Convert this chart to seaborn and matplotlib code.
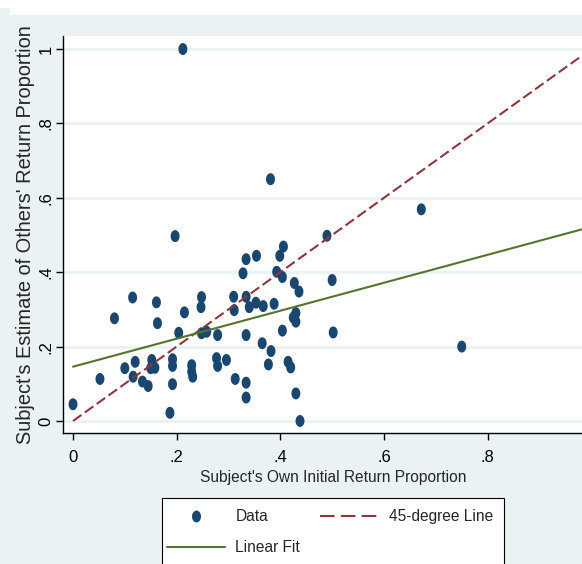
import numpy as np
import pandas as pd
import matplotlib
matplotlib.use("Agg")
import matplotlib.pyplot as plt
from matplotlib.lines import Line2D
from matplotlib.patches import Rectangle
import seaborn as sns

# Subject's own initial return proportion (x) and estimate of others' (y)
own_return = [
    0.000, 0.052, 0.080, 0.100, 0.115, 0.120, 0.116, 0.134, 0.145, 0.152,
    0.150, 0.158, 0.161, 0.163, 0.187, 0.192, 0.192, 0.192, 0.197, 0.204,
    0.212, 0.215, 0.229, 0.229, 0.231, 0.248, 0.247, 0.248, 0.258, 0.279,
    0.277, 0.279, 0.296, 0.310, 0.311, 0.313, 0.328, 0.334, 0.334, 0.340,
    0.334, 0.334, 0.334, 0.354, 0.353, 0.367, 0.365, 0.382, 0.377, 0.381,
    0.388, 0.393, 0.399, 0.406, 0.404, 0.404, 0.427, 0.436, 0.430, 0.425,
    0.430, 0.415, 0.420, 0.430, 0.438, 0.490, 0.500, 0.502, 0.672, 0.750,
]
est_others = [
    0.045, 0.113, 0.276, 0.142, 0.332, 0.159, 0.119, 0.106, 0.094, 0.164,
    0.142, 0.143, 0.319, 0.263, 0.022, 0.166, 0.148, 0.099, 0.497, 0.237,
    1.000, 0.292, 0.150, 0.133, 0.119, 0.333, 0.306, 0.236, 0.240, 0.231,
    0.169, 0.148, 0.164, 0.334, 0.298, 0.113, 0.397, 0.435, 0.334, 0.306,
    0.231, 0.103, 0.063, 0.444, 0.318, 0.309, 0.209, 0.188, 0.152, 0.650,
    0.315, 0.401, 0.444, 0.469, 0.387, 0.243, 0.371, 0.348, 0.290, 0.278,
    0.267, 0.159, 0.144, 0.074, 0.000, 0.498, 0.379, 0.238, 0.569, 0.200,
]

# straight lines over the x range [0, 1]
line_x = [0.0, 1.0]
diag_y = [0.0, 1.0]          # 45-degree reference line
fit_y = [0.146, 0.522]       # linear fit of estimate on own proportion

x_ticks = [0, 0.2, 0.4, 0.6, 0.8]
x_tick_labels = ["0", ".2", ".4", ".6", ".8"]
y_ticks = [0, 0.2, 0.4, 0.6, 0.8, 1.0]
y_tick_labels = ["0", ".2", ".4", ".6", ".8", "1"]

df = pd.DataFrame({"own": own_return, "others": est_others})
fit_df = pd.DataFrame({"x": line_x, "y": fit_y})
diag_df = pd.DataFrame({"x": line_x, "y": diag_y})

NAVY = "#1A476F"
MAROON = "#90353B"
GREEN = "#55752F"
BG = "#EAF2F3"
GRID = "#EAF2F3"

sns.set_theme(style="ticks")
plt.rcParams["font.family"] = ["Liberation Sans", "DejaVu Sans"]

W, H = 582, 564
fig = plt.figure(figsize=(W / 100, H / 100), dpi=100)
fig.patch.set_facecolor(BG)

# white strip along the top edge
fig.patches.append(Rectangle((0, (H - 8) / H), 1, 8 / H, transform=fig.transFigure,
                             facecolor="white", edgecolor="none", zorder=0))
fig.patches.append(Rectangle((10 / W, (H - 15) / H), 1, 8 / H, transform=fig.transFigure,
                             facecolor="white", edgecolor="none", zorder=0))

ax_left, ax_right, ax_top, ax_bottom = 63, 604, 36, 433
ax = fig.add_axes([ax_left / W, (H - ax_bottom) / H,
                   (ax_right - ax_left) / W, (ax_bottom - ax_top) / H])
ax.set_facecolor("white")

# elliptical marker
t = np.linspace(0, 2 * np.pi, 40)
ellipse = list(zip(0.75 * np.cos(t), np.sin(t)))

sns.scatterplot(data=df, x="own", y="others", ax=ax, marker=ellipse, s=74,
                color=NAVY, edgecolor="none", linewidth=0, zorder=3)
sns.lineplot(data=diag_df, x="x", y="y", ax=ax, color=MAROON, linewidth=1.5, zorder=4)
ax.lines[-1].set_dashes((5, 2))
sns.lineplot(data=fit_df, x="x", y="y", ax=ax, color=GREEN, linewidth=1.5, zorder=4)

ax.set_xlim(-0.0193, 1.0245)
ax.set_ylim(-0.0323, 1.035)
ax.set_xticks(x_ticks)
ax.set_xticklabels(x_tick_labels)
ax.set_yticks(y_ticks)
ax.set_yticklabels(y_tick_labels, rotation=90, va="center")

ax.yaxis.grid(True, color=GRID, linewidth=2)
ax.xaxis.grid(False)
ax.set_axisbelow(True)

for side in ["top", "right"]:
    ax.spines[side].set_visible(False)
for side in ["left", "bottom"]:
    ax.spines[side].set_color("black")
    ax.spines[side].set_linewidth(1)

ax.tick_params(axis="both", direction="out", length=5, width=1, color="black",
               labelsize=12, labelcolor="black")
ax.tick_params(axis="y", pad=2)
ax.tick_params(axis="x", pad=7)

ax.set_xlabel("Subject's Own Initial Return Proportion", fontsize=11.2, labelpad=3.5)
ax.set_ylabel("Subject's Estimate of Others' Return Proportion", fontsize=14.4,
              labelpad=2)

# legend box
fig.patches.append(Rectangle((162 / W, (H - 570) / H), (504 - 162) / W, 72 / H,
                             transform=fig.transFigure, facecolor="white",
                             edgecolor="black", linewidth=0.8, zorder=1))
handles = [
    Line2D([], [], marker=ellipse, linestyle="none", color=NAVY, markersize=8.6,
           markeredgewidth=0),
    Line2D([], [], color=GREEN, linewidth=1.5),
    Line2D([], [], color=MAROON, linewidth=1.5, dashes=(7, 3)),
]
labels = ["Data", "Linear Fit", "45-degree Line"]
leg = fig.legend(handles, labels, ncol=2, loc="upper left",
                 bbox_to_anchor=(167 / W, (H - 509) / H), frameon=False,
                 fontsize=11.2, handlelength=3.7, handletextpad=0.7,
                 columnspacing=1.3, labelspacing=1.05, borderpad=0,
                 borderaxespad=0, numpoints=1)
leg.set_zorder(2)

fig.savefig("out.png", dpi=100, facecolor=fig.get_facecolor())
